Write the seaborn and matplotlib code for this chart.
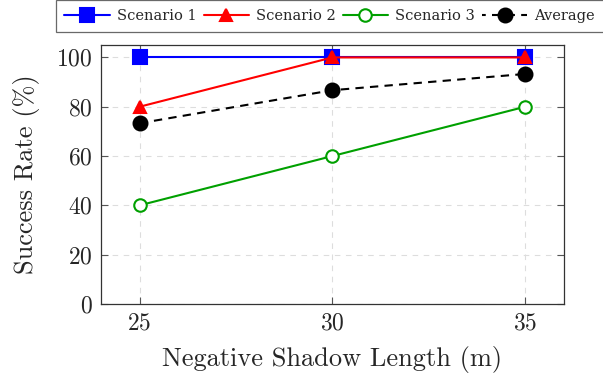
import pandas as pd
import matplotlib.pyplot as plt
import seaborn as sns
from matplotlib.lines import Line2D

# Data
shadow_length = [25, 30, 35]
scenario_1 = [100, 100, 100]
scenario_2 = [80, 100, 100]
scenario_3 = [40, 60, 80]
average = [73.3, 86.7, 93.3]

series_names = ['Scenario 1', 'Scenario 2', 'Scenario 3', 'Average']
series_values = [scenario_1, scenario_2, scenario_3, average]

sns.set_style('ticks')
plt.rcParams['font.family'] = ['cmr10', 'DejaVu Serif']
plt.rcParams['axes.formatter.use_mathtext'] = True
plt.rcParams['mathtext.fontset'] = 'cm'

# Long format table for seaborn
rows = []
for name, vals in zip(series_names, series_values):
    for x, v in zip(shadow_length, vals):
        rows.append({'x': x, 'y': v, 'series': name})
df = pd.DataFrame(rows)

styles = {
    'Scenario 1': dict(color='#0000ff', marker='s', mfc='#0000ff', ls='-', ms=10),
    'Scenario 2': dict(color='#ff0000', marker='^', mfc='#ff0000', ls='-', ms=9),
    'Scenario 3': dict(color='#00a000', marker='o', mfc='white', ls='-', ms=9),
    'Average': dict(color='black', marker='o', mfc='black', ls=(0, (4, 3)), ms=10),
}

fig = plt.figure(figsize=(6.03, 3.79), dpi=100)
ax = fig.add_axes([0.1675, 0.198, 0.7675, 0.683])

handles = []
for name in series_names:
    st = styles[name]
    sub = df[df['series'] == name]
    sns.lineplot(data=sub, x='x', y='y', ax=ax, color=st['color'],
                 linestyle=st['ls'], linewidth=1.5, marker=st['marker'],
                 markersize=st['ms'], markerfacecolor=st['mfc'],
                 markeredgecolor=st['color'], markeredgewidth=1.5,
                 legend=False, zorder=3)
    leg_ls = (2.2, (4, 3)) if name == 'Average' else st['ls']
    handles.append(Line2D([], [], color=st['color'], linestyle=leg_ls,
                          linewidth=1.5, marker=st['marker'],
                          markersize=st['ms'], markerfacecolor=st['mfc'],
                          markeredgecolor=st['color'], markeredgewidth=1.5))

ax.set_xlim(24, 36)
ax.set_ylim(0, 105)
ax.set_xticks(shadow_length)
ax.set_yticks([0, 20, 40, 60, 80, 100])
ax.grid(True, linestyle=(0, (5, 5)), color='#dddddd', linewidth=0.8)
ax.set_axisbelow(True)
ax.tick_params(direction='in', length=5, width=0.8, color='#555555',
               top=True, right=True, labelsize=17, pad=6)
for sp in ax.spines.values():
    sp.set_color('#333333')
    sp.set_linewidth(0.9)

ax.set_xlabel('Negative Shadow Length (m)', fontsize=19, labelpad=8)
ax.set_ylabel('Success Rate (%)', fontsize=19, labelpad=12)

leg = fig.legend(handles, series_names, ncol=4, loc='lower left',
                 bbox_to_anchor=(0.0924, 0.9156), frameon=True,
                 prop={'family': 'DejaVu Serif', 'size': 10.5},
                 fancybox=False, edgecolor='#444444', handlelength=3.1,
                 columnspacing=0.5, handletextpad=0.48,
                 borderpad=0.6, borderaxespad=0)
leg.get_frame().set_linewidth(0.9)

fig.savefig('out.png', dpi=100)
plt.close(fig)
